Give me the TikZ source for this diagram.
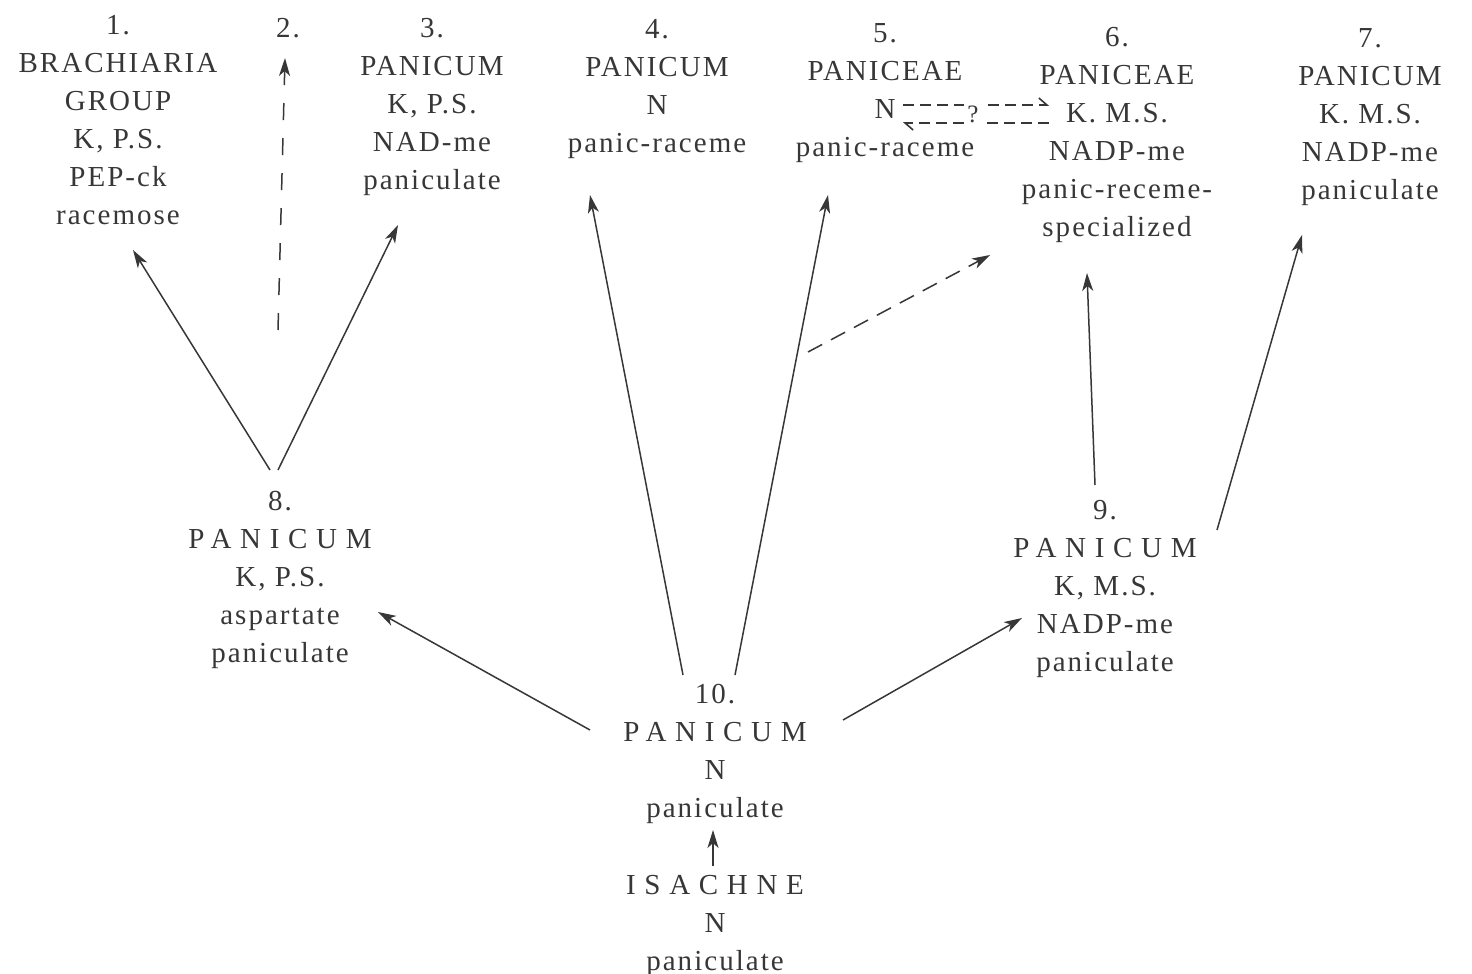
\documentclass[tikz,border=0pt]{standalone}
\usepackage{fontspec}
\usetikzlibrary{calc,arrows.meta}
\setmainfont[LetterSpace=7]{Liberation Serif}
\newfontfamily\widefont[LetterSpace=30]{Liberation Serif}
\definecolor{ink}{RGB}{55,55,55}
\tikzset{
  taxon/.style={align=center, inner sep=0pt, text=ink, font=\fontsize{29}{38}\selectfont},
  link/.style={draw=ink, line width=1.5pt, -{Stealth[length=18pt,width=11pt,inset=5pt]}},
  guess/.style={link, dash pattern=on 16pt off 10pt},
  half/.style={draw=ink, line width=1.6pt, dash pattern=on 11pt off 6pt, -{Straight Barb[left,length=8pt,width=14pt]}}
}
\begin{document}
\begin{tikzpicture}[x=1pt, y=-1pt]
    \useasboundingbox (0,0) rectangle (1472,974);
    \node [taxon] (n1) at (118,120) {1.\\BRACHIARIA\\GROUP\\K, P.S.\\PEP-ck\\racemose};
    \node [taxon] (n2) at (288,28) {2.};
    \node [taxon] (n3) at (432,107) {3.\\PANICUM\\K, P.S.\\NAD-me\\paniculate};
    \node [taxon] (n4) at (657,89) {4.\\PANICUM\\N\\panic-raceme};
    \node [taxon] (n5) at (885,93) {5.\\PANICEAE\\N\\panic-raceme};
    \node [taxon] (n6) at (1117,135) {6.\\PANICEAE\\K. M.S.\\NADP-me\\panic-receme-\\specialized};
    \node [taxon] (n7) at (1370,117) {7.\\PANICUM\\K. M.S.\\NADP-me\\paniculate};
    \node [taxon] (n8) at (280,580) {8.\\{\widefont PANICUM}\\K, P.S.\\aspartate\\paniculate};
    \node [taxon] (n9) at (1105,589) {9.\\{\widefont PANICUM}\\K, M.S.\\NADP-me\\paniculate};
    \node [taxon] (n10) at (715,754) {10.\\{\widefont PANICUM}\\N\\paniculate};
    \node [taxon] (n11) at (715,926) {{\widefont ISACHNE}\\N\\paniculate};
    \coordinate (c2) at (278,330);
    \coordinate (c6) at (808,352);
    \draw [link] ($(n8)+(-10,-110)$) -- ($(n1)+(15,130)$);
    \draw [link] ($(n8)+(-2,-110)$) -- ($(n3)+(-34,118)$);
    \draw [link] ($(n10)+(-125,-24)$) -- ($(n8)+(98,32)$);
    \draw [link] ($(n10)+(-32,-79)$) -- ($(n4)+(-67,106)$);
    \draw [link] ($(n10)+(20,-79)$) -- ($(n5)+(-57,102)$);
    \draw [link] ($(n10)+(128,-34)$) -- ($(n9)+(-83,29)$);
    \draw [link] ($(n9)+(-10,-104)$) -- ($(n6)+(-30,138)$);
    \draw [link] ($(n9)+(112,-59)$) -- ($(n7)+(-68,118)$);
    \draw [link] ($(n11)+(-2,-60)$) -- ($(n10)+(-2,76)$);
    \draw [guess, dash pattern=on 17pt off 18pt] (c2) -- ($(n2)+(-3,30)$);
    \draw [guess] (c6) -- ($(n6)+(-127,120)$);
    \draw [half] ($(n5)+(18,12)$) -- ($(n6)+(-68,-30)$);
    \draw [half] ($(n6)+(-68,-12)$) -- ($(n5)+(18,30)$);
    \node [taxon, fill=white, inner xsep=3pt, inner ysep=2pt, font=\fontsize{25}{28}\selectfont] (q) at (973,114) {?};
\end{tikzpicture}
\end{document}
